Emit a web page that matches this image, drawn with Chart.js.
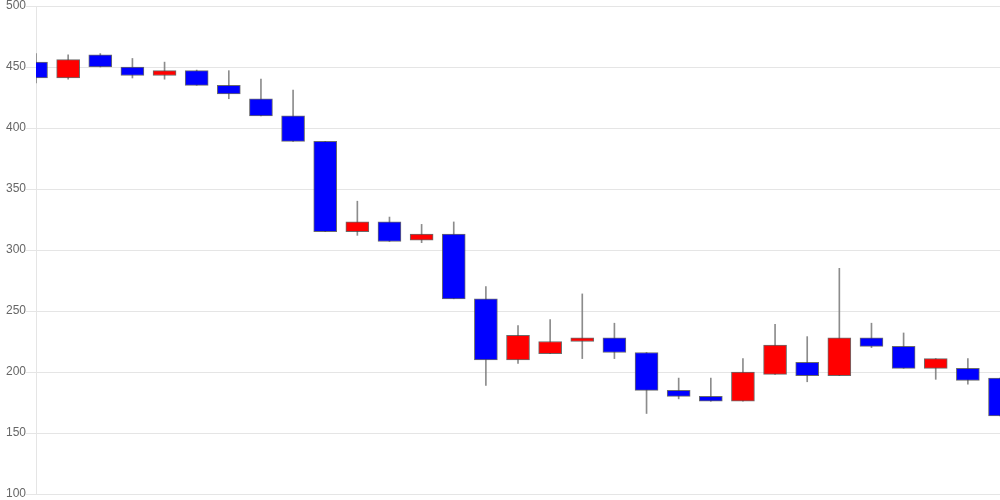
<!DOCTYPE html>
<html>
<head>
<meta charset="utf-8">
<script src="https://cdn.jsdelivr.net/npm/chart.js@4/dist/chart.umd.min.js"></script>
<style>
html,body{margin:0;padding:0;background:#fff;}
#wrap{width:1000px;height:500px;position:relative;}
</style>
</head>
<body>
<div id="wrap"><canvas id="c" width="1000" height="500"></canvas></div>
<script>
const categories = ["1","2","3","4","5","6","7","8","9","10","11","12","13","14","15","16","17","18","19","20","21","22","23","24","25","26","27","28","29","30","31"];
const openValues  = [454,441,460,450,443,447,435,424,410,389,315,323,308,313,260,210,215,225,228,216,185,180,176,198,208,197,228,221,203,203,195];
const closeValues = [441,456,450,443,447,435,428,410,389,315,323,307,313,260,210,230,225,228,216,185,180,176,200,222,197,228,221,203,211,193,164];
const highValues  = [461,460,461,457,454,447.5,447,440,431,389,340,327,321,323,270,238,243,264,240,216,195,195,211,239,229,285,240,232,211,211,195];
const lowValues   = [437,440,450,441,440,435,424,410,389,315,312,307,306,260,189,207,215,211,211,166,178,176,176,198,192,197,220,203,194,190,164];
const yTicks = [100,150,200,250,300,350,400,450,500];

const bodies = categories.map((_, i) => [openValues[i], closeValues[i]]);
const wicks = categories.map((_, i) => [lowValues[i], highValues[i]]);
const bodyColors = categories.map((_, i) => closeValues[i] >= openValues[i] ? '#ff0000' : '#0000ff');

new Chart(document.getElementById('c'), {
  type: 'bar',
  data: {
    labels: categories,
    datasets: [
      {
        data: bodies,
        backgroundColor: bodyColors,
        borderColor: 'rgba(70,70,70,0.8)',
        borderWidth: 1,
        borderSkipped: false,
        barThickness: 23,
        grouped: false,
        order: 1
      },
      {
        data: wicks,
        backgroundColor: 'rgba(120,120,120,0.85)',
        borderWidth: 0,
        barThickness: 1,
        grouped: false,
        order: 2
      }
    ]
  },
  options: {
    responsive: false,
    animation: false,
    plugins: { legend: { display: false }, tooltip: { enabled: false } },
    layout: { padding: { left: 6, right: 0, top: 0, bottom: 0 } },
    scales: {
      x: {
        display: false,
        offset: false,
        grid: { display: false }
      },
      y: {
        min: 100,
        max: 500,
        afterBuildTicks: (s) => { s.ticks = yTicks.map(v => ({ value: v })); },
        afterFit: (s) => { s.paddingTop = 6; s.paddingBottom = 6; },
        ticks: { color: '#666', padding: 0, font: { family: 'Liberation Sans, Arial, sans-serif', size: 12 } },
        grid: { color: 'rgba(0,0,0,0.1)', tickLength: 10 },
        border: { color: 'rgba(0,0,0,0.1)' }
      }
    }
  }
});
</script>
</body>
</html>
